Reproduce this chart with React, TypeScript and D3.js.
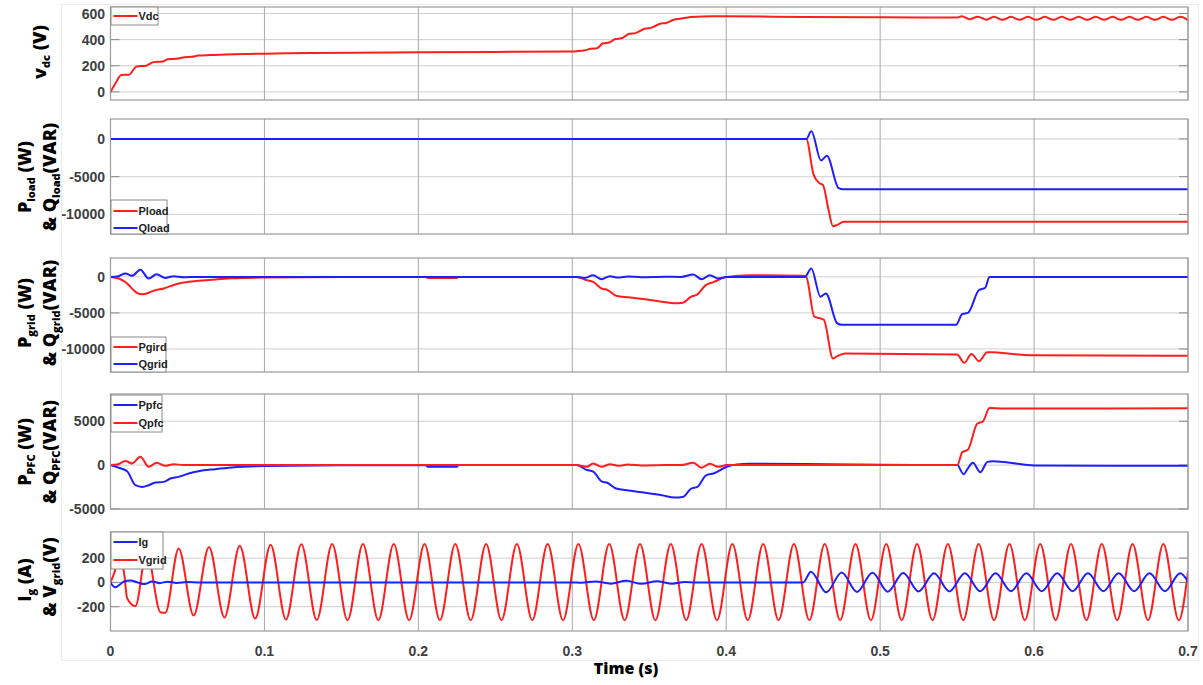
import React from "react";
import * as d3 from "d3";

type P = [number, number];

// ---------- DATA ----------
const timeTicks = [0, 0.1, 0.2, 0.3, 0.4, 0.5, 0.6, 0.7];
const timeTickLabels = ["0", "0.1", "0.2", "0.3", "0.4", "0.5", "0.6", "0.7"];

const vdcTicks = [0, 200, 400, 600];
const loadTicks = [-10000, -5000, 0];
const gridTicks = [-10000, -5000, 0];
const pfcTicks = [-5000, 0, 5000];
const igTicks = [-200, 0, 200];

const vdc: P[] = [
  [0, 0], [0.003, 60], [0.007, 130], [0.012, 132], [0.017, 195], [0.023, 200], [0.028, 228], [0.034, 232],
  [0.037, 250], [0.043, 253], [0.048, 266], [0.053, 269], [0.057, 278], [0.065, 282], [0.075, 287], [0.09, 291],
  [0.1, 293], [0.13, 297], [0.16, 300], [0.2, 303], [0.25, 306], [0.3, 310], [0.303, 312], [0.308, 318],
  [0.312, 330], [0.316, 334], [0.32, 372], [0.324, 378], [0.328, 405], [0.332, 410], [0.337, 445], [0.341, 450],
  [0.347, 484], [0.351, 490], [0.357, 522], [0.361, 528], [0.366, 553], [0.37, 560], [0.377, 573], [0.385, 578],
  [0.4, 579], [0.45, 574], [0.5, 571], [0.55, 570],
  [0.553, 580], [0.558, 556], [0.5635, 576], [0.569, 553], [0.574, 575], [0.5795, 552], [0.585, 575], [0.5905, 552],
  [0.596, 575], [0.6015, 552], [0.607, 575], [0.6125, 552], [0.618, 575], [0.6235, 552], [0.629, 575], [0.6345, 552],
  [0.64, 575], [0.6455, 552], [0.651, 575], [0.6565, 552], [0.662, 575], [0.6675, 552], [0.673, 575], [0.6785, 552],
  [0.684, 575], [0.6895, 552], [0.695, 575], [0.7, 550],
];

const pload: P[] = [
  [0, 0], [0.452, 0], [0.4568, -4770], [0.4607, -5870], [0.4628, -6090], [0.4665, -9420], [0.4693, -11560],
  [0.472, -11420], [0.4762, -10980], [0.7, -10980],
];
const qload: P[] = [
  [0, 0], [0.452, 0], [0.4553, 1020], [0.4616, -2840], [0.4654, -2220], [0.473, -6530], [0.476, -6680], [0.7, -6660],
];

const pgrid: P[] = [
  [0, 0], [0.0054, -230], [0.0108, -920], [0.0162, -2070], [0.0205, -2400], [0.0248, -2210], [0.0292, -1840],
  [0.0346, -1610], [0.0389, -1290], [0.0443, -920], [0.0508, -690], [0.0572, -550], [0.068, -370], [0.0788, -180],
  [0.1, -90], [0.15, -30], [0.205, -20], [0.206, -150], [0.225, -150], [0.226, -10], [0.3, 0], [0.3027, 0],
  [0.3095, -460], [0.3136, -690], [0.319, -1610], [0.323, -1830], [0.3285, -2610], [0.3366, -2840], [0.3474, -3120],
  [0.3583, -3440], [0.3664, -3670], [0.3718, -3580], [0.3772, -2750], [0.3813, -2430], [0.3867, -1150],
  [0.3921, -690], [0.4003, 0], [0.415, 230], [0.45, 140], [0.452, 0], [0.4572, -5500], [0.4607, -5730],
  [0.4634, -5960], [0.4694, -11330], [0.4721, -11010], [0.4775, -10640], [0.55, -10780], [0.5547, -11930],
  [0.5593, -10690], [0.5642, -11700], [0.5696, -10460], [0.5737, -10460], [0.583, -10640], [0.5995, -10870],
  [0.7, -10960],
];
const qgrid: P[] = [
  [0, 0], [0.005, 100], [0.0097, 460], [0.014, 140], [0.0194, 1000], [0.0248, -230], [0.03, 370], [0.0356, -140],
  [0.041, 90], [0.0475, -50], [0.055, 0], [0.3027, 0], [0.308, -140], [0.3136, 230], [0.319, -320], [0.3245, 90],
  [0.33, -100], [0.336, 60], [0.345, -50], [0.36, 20], [0.3705, 0], [0.3786, 320], [0.384, -320], [0.3894, 230],
  [0.3949, -230], [0.4003, 0], [0.451, 0], [0.4553, 1150], [0.4612, -2750], [0.4648, -2290], [0.472, -6420],
  [0.4748, -6650], [0.5493, -6650], [0.5534, -5140], [0.557, -5000], [0.5642, -1830], [0.5683, -1510], [0.571, 0],
  [0.7, 0],
];

const ppfc: P[] = [
  [0, 0], [0.0054, -300], [0.0108, -690], [0.0162, -2290], [0.0205, -2480], [0.0248, -2290], [0.0292, -1980],
  [0.0346, -1910], [0.0389, -1530], [0.0443, -1340], [0.0508, -950], [0.0572, -690], [0.068, -460], [0.0788, -270],
  [0.1, -110], [0.15, -30], [0.205, -10], [0.206, -190], [0.225, -190], [0.226, 0], [0.3027, 0], [0.3095, -560],
  [0.3136, -740], [0.319, -1850], [0.323, -2040], [0.3285, -2670], [0.3366, -2890], [0.3474, -3150], [0.3583, -3440],
  [0.3664, -3700], [0.3718, -3630], [0.3772, -2670], [0.3813, -2480], [0.3867, -1190], [0.3921, -930],
  [0.4003, -190], [0.407, 70], [0.415, 150], [0.45, 120], [0.5, 40], [0.5501, 0], [0.5542, -1040], [0.557, -370],
  [0.5602, 260], [0.5651, -810], [0.5697, 370], [0.573, 440], [0.583, 300], [0.6, -50], [0.7, -70],
];
const qpfc: P[] = [
  [0, 0], [0.005, 100], [0.0097, 460], [0.014, 190], [0.0194, 950], [0.0248, -190], [0.03, 270], [0.0356, -80],
  [0.041, 110], [0.0475, 0], [0.3027, 0], [0.3095, -190], [0.3136, 190], [0.319, -190], [0.3245, 100], [0.33, -80],
  [0.336, 60], [0.345, -40], [0.36, 20], [0.3705, 0], [0.3786, 260], [0.384, -300], [0.3894, 150], [0.3949, -190],
  [0.4003, 0], [0.5501, 0], [0.5534, 1480], [0.557, 1740], [0.563, 4700], [0.5669, 5000], [0.571, 6500],
  [0.58, 6450], [0.7, 6480],
];

const ig: P[] = [
  [0, 0], [0.003, -40], [0.0085, 5], [0.013, 15], [0.018, -2], [0.022, -14], [0.027, 8], [0.032, -6], [0.037, 6],
  [0.043, -4], [0.05, 3], [0.058, 0], [0.3, 0], [0.306, -3], [0.315, 8], [0.325, -10], [0.335, 13], [0.345, -12],
  [0.355, 10], [0.365, -10], [0.373, 4], [0.38, 0], [0.45, 0], [0.455, 88], [0.465, -82], [0.475, 82], [0.485, -78],
  [0.495, 80], [0.505, -76], [0.515, 78], [0.525, -74], [0.535, 76], [0.545, -74], [0.555, 76], [0.565, -72],
  [0.575, 75], [0.585, -72], [0.595, 75], [0.605, -72], [0.615, 75], [0.625, -72], [0.635, 75], [0.645, -72],
  [0.655, 75], [0.665, -72], [0.675, 75], [0.685, -72], [0.695, 75], [0.7, 5],
];

const vgrid: P[] = [
  [0, 0], [0.003, 100], [0.0055, 230], [0.009, 60], [0.0108, -130], [0.0162, -195], [0.0235, 255], [0.0324, -245],
  [0.0356, -250], [0.0443, 280], [0.054, -272], [0.064, 292], [0.074, -288], [0.084, 302], [0.094, -298],
  [0.104, 310], [0.114, -306], [0.124, 314], [0.134, -310], [0.144, 316], [0.154, -312], [0.164, 316], [0.174, -312],
  [0.184, 316], [0.194, -312], [0.204, 316], [0.214, -312], [0.224, 316], [0.234, -312], [0.244, 316], [0.254, -312],
  [0.264, 316], [0.274, -312], [0.284, 316], [0.294, -312], [0.304, 316], [0.314, -312], [0.324, 316], [0.334, -312],
  [0.344, 316], [0.354, -312], [0.364, 316], [0.374, -312], [0.384, 316], [0.394, -312], [0.404, 316], [0.414, -312],
  [0.424, 316], [0.434, -312], [0.444, 316], [0.454, -312], [0.464, 316], [0.474, -312], [0.484, 316], [0.494, -312],
  [0.504, 316], [0.514, -312], [0.524, 316], [0.534, -312], [0.544, 316], [0.554, -312], [0.564, 316], [0.574, -312],
  [0.584, 316], [0.594, -312], [0.604, 316], [0.614, -312], [0.624, 316], [0.634, -312], [0.644, 316], [0.654, -312],
  [0.664, 316], [0.674, -312], [0.684, 316], [0.694, -312], [0.7, 90],
];

// ---------- LAYOUT / STYLE ----------
const W = 1203;
const H = 685;
const X0 = 110.5;
const X1 = 1188;
const RED = "#ff1e1e";
const BLUE = "#1e1eff";
const TICK_FONT = "'Liberation Sans Narrow', 'Liberation Sans', Arial, sans-serif";
const TITLE_FONT = "'Open Sans', 'Liberation Sans', Arial, sans-serif";

type Part = { t: string; sub?: boolean };

interface SeriesSpec { name: string; data: P[]; color: string }
interface PanelSpec {
  id: string;
  top: number;
  bottom: number;
  domain: [number, number];
  ticks: number[];
  draw: SeriesSpec[];
  legend: { items: SeriesSpec[]; y: number; w: number; h: number; rowY: number[] };
  titles: { x: number; y: number; parts: Part[] }[];
}

const sVdc = { name: "Vdc", data: vdc, color: RED };
const sPload = { name: "Pload", data: pload, color: RED };
const sQload = { name: "Qload", data: qload, color: BLUE };
const sPgrid = { name: "Pgird", data: pgrid, color: RED };
const sQgrid = { name: "Qgrid", data: qgrid, color: BLUE };
const sPpfc = { name: "Ppfc", data: ppfc, color: BLUE };
const sQpfc = { name: "Qpfc", data: qpfc, color: RED };
const sIg = { name: "Ig", data: ig, color: BLUE };
const sVgrid = { name: "Vgrid", data: vgrid, color: RED };

const panels: PanelSpec[] = [
  {
    id: "p1", top: 7, bottom: 100, domain: [-62, 650], ticks: vdcTicks,
    draw: [sVdc],
    legend: { items: [sVdc], y: 7, w: 47, h: 18, rowY: [16] },
    titles: [{ x: 46, y: 52, parts: [{ t: "v" }, { t: "dc", sub: true }, { t: " (V)" }] }],
  },
  {
    id: "p2", top: 119, bottom: 234, domain: [-12600, 2650], ticks: loadTicks,
    draw: [sPload, sQload],
    legend: { items: [sPload, sQload], y: 200, w: 56, h: 34, rowY: [211, 228] },
    titles: [
      { x: 31, y: 177, parts: [{ t: "P" }, { t: "load", sub: true }, { t: " (W)" }] },
      { x: 56, y: 177, parts: [{ t: "& Q" }, { t: "load", sub: true }, { t: "(VAR)" }] },
    ],
  },
  {
    id: "p3", top: 258, bottom: 372, domain: [-13200, 2620], ticks: gridTicks,
    draw: [sPgrid, sQgrid],
    legend: { items: [sPgrid, sQgrid], y: 337, w: 55, h: 35, rowY: [347, 364] },
    titles: [
      { x: 31, y: 313, parts: [{ t: "P" }, { t: "grid", sub: true }, { t: " (W)" }] },
      { x: 56, y: 313, parts: [{ t: "& Q" }, { t: "grid", sub: true }, { t: "(VAR)" }] },
    ],
  },
  {
    id: "p4", top: 394, bottom: 509, domain: [-5000, 8100], ticks: pfcTicks,
    draw: [sPpfc, sQpfc],
    legend: { items: [sPpfc, sQpfc], y: 395, w: 51, h: 37, rowY: [405, 423] },
    titles: [
      { x: 31, y: 452, parts: [{ t: "P" }, { t: "PFC", sub: true }, { t: " (W)" }] },
      { x: 56, y: 452, parts: [{ t: "& Q" }, { t: "PFC", sub: true }, { t: "(VAR)" }] },
    ],
  },
  {
    id: "p5", top: 532, bottom: 631, domain: [-400, 415], ticks: igTicks,
    draw: [sVgrid, sIg],
    legend: { items: [sIg, sVgrid], y: 532, w: 52, h: 37, rowY: [542, 560] },
    titles: [
      { x: 31, y: 580, parts: [{ t: "I" }, { t: "g", sub: true }, { t: " (A)" }] },
      { x: 56, y: 577, parts: [{ t: "& V" }, { t: "grid", sub: true }, { t: "(V)" }] },
    ],
  },
];

const xScale = d3.scaleLinear().domain([0, 0.7]).range([X0, X1]);

function Title({ x, y, parts }: { x: number; y: number; parts: Part[] }) {
  const kids: React.ReactNode[] = [];
  let shifted = false;
  parts.forEach((p, i) => {
    if (p.sub) {
      kids.push(<tspan key={i} fontSize={11} dy={4}>{p.t}</tspan>);
      shifted = true;
    } else {
      kids.push(<tspan key={i} fontSize={18} dy={shifted ? -4 : 0}>{p.t}</tspan>);
      shifted = false;
    }
  });
  return (
    <text
      transform={`translate(${x},${y}) rotate(-90)`}
      textAnchor="middle"
      fontFamily={TITLE_FONT}
      fontWeight={800}
      fontSize={18}
      fill="#000"
    >
      {kids}
    </text>
  );
}

function Panel({ spec }: { spec: PanelSpec }) {
  const y = d3.scaleLinear().domain(spec.domain).range([spec.bottom, spec.top]);
  const line = d3
    .line<P>()
    .x((d) => xScale(d[0]))
    .y((d) => y(d[1]))
    .curve(d3.curveMonotoneX);
  const lg = spec.legend;
  return (
    <g>
      <defs>
        <clipPath id={`clip-${spec.id}`}>
          <rect x={X0} y={spec.top} width={X1 - X0} height={spec.bottom - spec.top} />
        </clipPath>
      </defs>
      <rect x={X0} y={spec.top} width={X1 - X0} height={spec.bottom - spec.top} fill="#fff" />
      {spec.ticks.map((t) => (
        <line key={`h${t}`} x1={X0} x2={X1} y1={y(t)} y2={y(t)} stroke="#cfcfcf" strokeWidth={1} />
      ))}
      {timeTicks.map((t) => (
        <line key={`v${t}`} x1={xScale(t)} x2={xScale(t)} y1={spec.top} y2={spec.bottom} stroke="#a8a8a8" strokeWidth={1} />
      ))}
      {spec.ticks.map((t) => (
        <g key={`tk${t}`}>
          <line x1={X0} x2={X0 + 9} y1={y(t)} y2={y(t)} stroke="#8a8a8a" strokeWidth={1} />
          <line x1={X1 - 9} x2={X1} y1={y(t)} y2={y(t)} stroke="#8a8a8a" strokeWidth={1} />
        </g>
      ))}
      <g clipPath={`url(#clip-${spec.id})`}>
        {spec.draw.map((s) => (
          <path key={s.name} d={line(s.data) || ""} fill="none" stroke={s.color} strokeWidth={2} strokeLinejoin="round" />
        ))}
      </g>
      <rect x={X0} y={spec.top} width={X1 - X0} height={spec.bottom - spec.top} fill="none" stroke="#9a9a9a" strokeWidth={1.2} />
      {spec.ticks.map((t) => (
        <text
          key={`l${t}`}
          x={105}
          y={y(t)}
          textAnchor="end"
          dominantBaseline="central"
          fontFamily={TICK_FONT}
          fontWeight={700}
          fontSize={14}
          fill="#404040"
        >
          {t}
        </text>
      ))}
      <g>
        <rect x={X0 + 0.5} y={lg.y} width={lg.w} height={lg.h} fill="#fff" stroke="#8a8a8a" strokeWidth={1} />
        {lg.items.map((s, i) => (
          <g key={s.name}>
            <line x1={X0 + 3} x2={X0 + 27} y1={lg.rowY[i]} y2={lg.rowY[i]} stroke={s.color} strokeWidth={2} />
            <text
              x={X0 + 28}
              y={lg.rowY[i]}
              dominantBaseline="central"
              fontFamily={TICK_FONT}
              fontWeight={700}
              fontSize={11}
              fill="#222"
            >
              {s.name}
            </text>
          </g>
        ))}
      </g>
      {spec.titles.map((t, i) => (
        <Title key={i} x={t.x} y={t.y} parts={t.parts} />
      ))}
    </g>
  );
}

export default function App() {
  return (
    <svg
      width={W}
      height={H}
      viewBox={`0 0 ${W} ${H}`}
      style={{ position: "absolute", left: 0, top: 0, display: "block", background: "#fff" }}
    >
      <rect x={0} y={0} width={W} height={H} fill="#fff" />
      <rect x={61.5} y={4.5} width={1137} height={656} fill="none" stroke="#ececec" strokeWidth={1} />
      {panels.map((p) => (
        <Panel key={p.id} spec={p} />
      ))}
      {timeTicks.map((t, i) => (
        <text
          key={t}
          x={xScale(t)}
          y={651}
          textAnchor="middle"
          dominantBaseline="central"
          fontFamily={TICK_FONT}
          fontWeight={700}
          fontSize={14}
          fill="#404040"
        >
          {timeTickLabels[i]}
        </text>
      ))}
      <text x={626} y={674} textAnchor="middle" fontFamily={TITLE_FONT} fontWeight={800} fontSize={16} fill="#000">
        Time (s)
      </text>
    </svg>
  );
}
